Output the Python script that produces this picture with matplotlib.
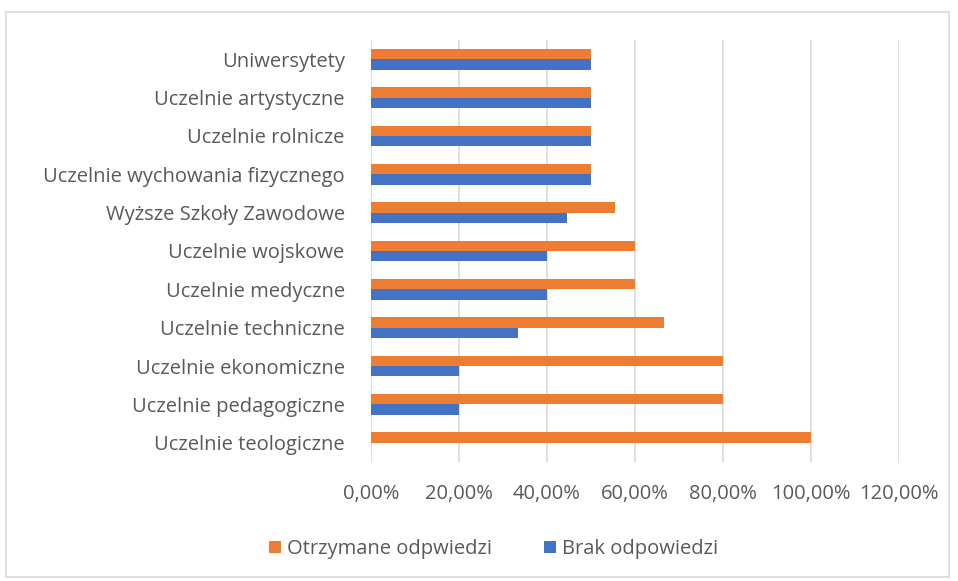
import numpy as np
import matplotlib.pyplot as plt
from matplotlib.patches import Rectangle
from matplotlib.ticker import FuncFormatter

# Categories listed bottom -> top
categories = [
    "Uczelnie teologiczne",
    "Uczelnie pedagogiczne",
    "Uczelnie ekonomiczne",
    "Uczelnie techniczne",
    "Uczelnie medyczne",
    "Uczelnie wojskowe",
    "Wyższe Szkoły Zawodowe",
    "Uczelnie wychowania fizycznego",
    "Uczelnie rolnicze",
    "Uczelnie artystyczne",
    "Uniwersytety",
]
otrzymane = [100.0, 80.0, 80.0, 66.67, 60.0, 60.0, 55.56, 50.0, 50.0, 50.0, 50.0]
brak = [0.0, 20.0, 20.0, 33.33, 40.0, 40.0, 44.44, 50.0, 50.0, 50.0, 50.0]

orange = "#ED7D31"
blue = "#4472C4"
text_col = "#595959"

plt.rcParams['font.family'] = ['Open Sans', 'DejaVu Sans']

fig = plt.figure(figsize=(9.58, 5.81), dpi=100)
fig.patches.append(Rectangle((0.006, 0.007), 0.985, 0.972, transform=fig.transFigure,
                             fill=False, edgecolor="#D9D9D9", linewidth=1.2))
ax = fig.add_axes([0.3873, 0.2048, 0.5511, 0.7264])

y = np.arange(len(categories))
h = 0.27
ax.barh(y + h / 2, otrzymane, height=h, color=orange, label="Otrzymane odpwiedzi", zorder=3)
ax.barh(y - h / 2, brak, height=h, color=blue, label="Brak odpowiedzi", zorder=3)

ax.set_xlim(0, 120)
ax.set_ylim(-0.5, len(categories) - 0.5)
ax.set_xticks(np.arange(0, 121, 20))
ax.xaxis.set_major_formatter(FuncFormatter(lambda v, p: f"{v:.2f}%".replace(".", ",")))
ax.set_yticks(y)
ax.set_yticklabels(categories)
ax.grid(axis="x", color="#D9D9D9", linewidth=1.2, zorder=0)
for s in ax.spines.values():
    s.set_visible(False)
ax.tick_params(axis="both", length=0, colors=text_col, labelsize=14.5)
ax.tick_params(axis="y", pad=19)
ax.tick_params(axis="x", pad=16)

ax.legend(loc="center", bbox_to_anchor=(0.515, 0.055), bbox_transform=fig.transFigure,
          ncol=2, frameon=False, fontsize=14.5, labelcolor=text_col,
          handlelength=0.6, handleheight=0.6, handletextpad=0.3, columnspacing=2.6)

fig.savefig("out.png", dpi=100)
